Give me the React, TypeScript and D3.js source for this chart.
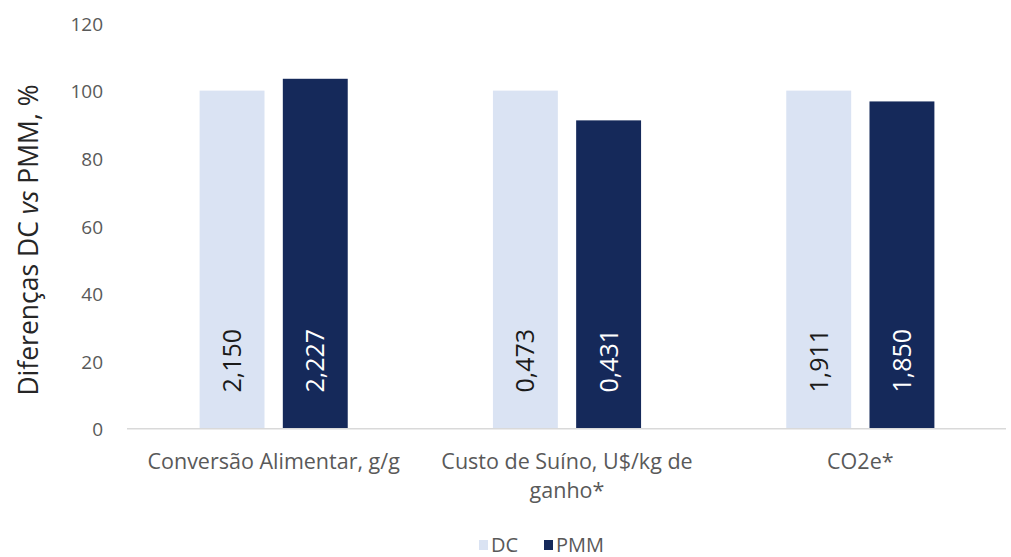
import React, { useEffect, useRef } from "react";
import * as d3 from "d3";

const categories = [
  "Conversão Alimentar, g/g",
  "Custo de Suíno, U$/kg de ganho*",
  "CO2e*",
];
const seriesNames = ["DC", "PMM"];
const dcValues = [100, 100, 100];
const pmmValues = [103.5, 91.2, 96.8];
const dcLabels = ["2,150", "0,473", "1,911"];
const pmmLabels = ["2,227", "0,431", "1,850"];
const yTicks = [0, 20, 40, 60, 80, 100, 120];

const colors = ["#dae3f3", "#15295a"];
const labelColors = ["#1a1a1a", "#ffffff"];

const App = () => {
  const ref = useRef<SVGSVGElement>(null);

  useEffect(() => {
    const svg = d3.select(ref.current);
    svg.selectAll("*").remove();

    const width = 1011;
    const height = 557;
    const margin = { left: 127, right: 4, top: 23, bottom: 128 };
    const font = "'Open Sans', sans-serif";

    const x = d3
      .scaleBand()
      .domain(categories)
      .range([margin.left, width - margin.right])
      .paddingInner(0.495)
      .paddingOuter(0.2475);

    const xSub = d3
      .scaleBand()
      .domain(seriesNames)
      .range([0, x.bandwidth()])
      .paddingInner(0.22);

    const y = d3
      .scaleLinear()
      .domain([0, 120])
      .range([height - margin.bottom - 0.3, margin.top]);

    const rows = categories.map((c, i) => ({
      cat: c,
      values: [dcValues[i], pmmValues[i]],
      labels: [dcLabels[i], pmmLabels[i]],
    }));

    // y tick labels, no gridlines
    svg
      .append("g")
      .selectAll("text")
      .data(yTicks)
      .enter()
      .append("text")
      .attr("x", 103)
      .attr("y", (d) => y(d) + 1)
      .attr("dy", "0.35em")
      .attr("text-anchor", "end")
      .style("font-family", font)
      .style("font-size", "19px")
      .style("fill", "#595959")
      .text((d) => d);

    // bars
    const groups = svg
      .append("g")
      .selectAll("g")
      .data(rows)
      .enter()
      .append("g")
      .attr("transform", (d) => `translate(${x(d.cat)},0)`);

    groups
      .selectAll("rect")
      .data((d) => d.values.map((v, i) => ({ v, name: seriesNames[i], i })))
      .enter()
      .append("rect")
      .attr("x", (d) => xSub(d.name))
      .attr("y", (d) => y(d.v))
      .attr("width", xSub.bandwidth())
      .attr("height", (d) => y(0) - y(d.v))
      .style("fill", (d) => colors[d.i]);

    // data labels, rotated, near the base
    groups
      .selectAll("text")
      .data((d) => d.labels.map((l, i) => ({ l, name: seriesNames[i], i })))
      .enter()
      .append("text")
      .attr(
        "transform",
        (d) =>
          `translate(${xSub(d.name) + xSub.bandwidth() / 2},${y(0) - 68}) rotate(-90)`
      )
      .attr("dy", "0.36em")
      .attr("text-anchor", "middle")
      .style("font-family", font)
      .style("font-size", "25px")
      .style("fill", (d) => labelColors[d.i])
      .text((d) => d.l);

    // x axis line
    svg
      .append("line")
      .attr("x1", margin.left)
      .attr("x2", width - 5)
      .attr("y1", y(0))
      .attr("y2", y(0))
      .style("stroke", "#d9d9d9")
      .style("stroke-width", 1.5);

    // category labels, wrapped to the band step
    const maxW = x.step() - 10;
    categories.forEach((c) => {
      const cx = x(c) + x.bandwidth() / 2;
      const t = svg
        .append("text")
        .attr("x", cx)
        .attr("y", 469)
        .attr("text-anchor", "middle")
        .style("font-family", font)
        .style("font-size", "21.5px")
        .style("fill", "#595959");
      const words = c.split(" ");
      let line: string[] = [];
      let tspan = t.append("tspan").attr("x", cx).attr("dy", 0);
      words.forEach((w) => {
        line.push(w);
        tspan.text(line.join(" "));
        if ((tspan.node() as SVGTSpanElement).getComputedTextLength() > maxW && line.length > 1) {
          line.pop();
          tspan.text(line.join(" "));
          line = [w];
          tspan = t.append("tspan").attr("x", cx).attr("dy", 29).text(w);
        }
      });
    });

    // y axis title
    const title = svg
      .append("text")
      .attr("transform", `translate(29,240) rotate(-90)`)
      .attr("dy", "0.35em")
      .attr("text-anchor", "middle")
      .style("font-family", font)
      .style("font-size", "26.5px")
      .style("fill", "#262626");
    title.append("tspan").text("Diferenças DC ");
    title.append("tspan").style("font-style", "italic").text("vs");
    title.append("tspan").text(" PMM, %");

    // legend
    const legend = svg.append("g").attr("transform", "translate(479,545)");
    const items = [
      { name: seriesNames[0], x: 0 },
      { name: seriesNames[1], x: 65 },
    ];
    items.forEach((it, i) => {
      legend
        .append("rect")
        .attr("x", it.x)
        .attr("y", -5)
        .attr("width", 9)
        .attr("height", 10)
        .style("fill", colors[i]);
      legend
        .append("text")
        .attr("x", it.x + 12)
        .attr("y", 0)
        .attr("dy", "0.35em")
        .style("font-family", font)
        .style("font-size", "20px")
        .style("fill", "#595959")
        .text(it.name);
    });
  }, []);

  return (
    <svg
      ref={ref}
      width={1011}
      height={557}
      style={{ position: "absolute", left: 0, top: 0, background: "#fff" }}
    />
  );
};

export default App;
